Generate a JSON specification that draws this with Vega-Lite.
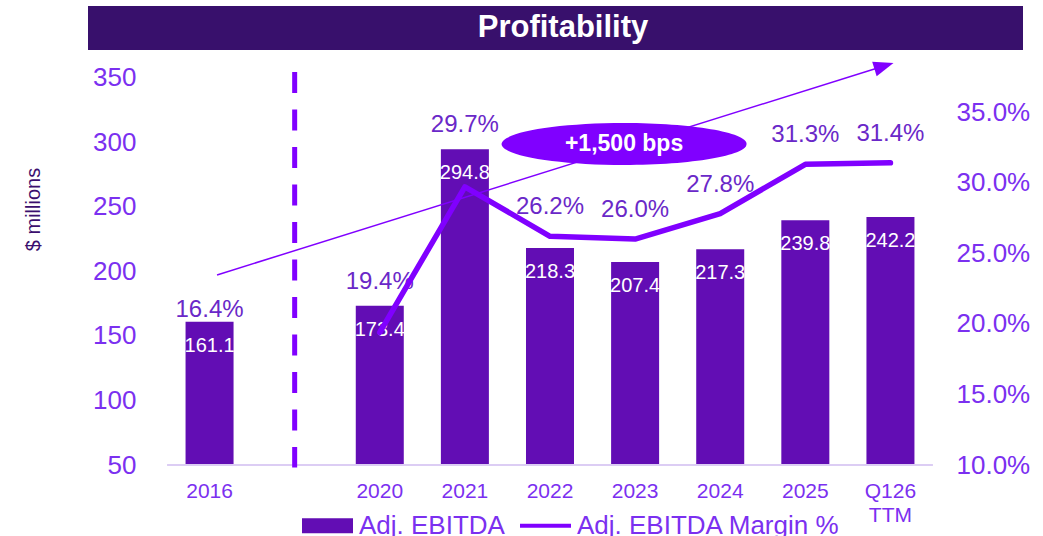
{
  "$schema": "https://vega.github.io/schema/vega-lite/v6.json",
  "width": 935,
  "height": 459,
  "autosize": {"type": "none"},
  "padding": {"left": 88, "top": 6, "right": 20, "bottom": 71},
  "background": "white",
  "config": {"view": {"stroke": null}, "font": "Liberation Sans"},
  "data": {
    "values": [
      {"year": "2016", "ebitda": 161.1, "margin": 0.164},
      {"year": "2020", "ebitda": 173.4, "margin": 0.194},
      {"year": "2021", "ebitda": 294.8, "margin": 0.297},
      {"year": "2022", "ebitda": 218.3, "margin": 0.262},
      {"year": "2023", "ebitda": 207.4, "margin": 0.260},
      {"year": "2024", "ebitda": 217.3, "margin": 0.278},
      {"year": "2025", "ebitda": 239.8, "margin": 0.313},
      {"year": "Q126 TTM", "ebitda": 242.2, "margin": 0.314}
    ]
  },
  "layer": [
    {
      "layer": [
        {
          "mark": {"type": "bar"},
          "encoding": {
            "x": {
              "field": "year", "type": "nominal", "sort": null,
              "scale": {
                "domain": ["2016", " ", "2020", "2021", "2022", "2023", "2024", "2025", "Q126 TTM"],
                "range": [79, 845],
                "paddingInner": 0.436, "paddingOuter": 0.218, "align": 0.5
              },
              "axis": {
                "title": null, "labelAngle": 0, "labelFontSize": 21, "labelColor": "#7b30f0",
                "ticks": false, "tickSize": 0, "domain": false, "grid": false, "labelPadding": 15,
                "labelBaseline": "top", "labelLineHeight": 24,
                "labelExpr": "datum.label == 'Q126 TTM' ? ['Q126', 'TTM'] : datum.label"
              }
            },
            "y": {
              "field": "ebitda", "type": "quantitative",
              "scale": {"domain": [50, 405.8], "nice": false, "zero": false},
              "axis": {
                "values": [50, 100, 150, 200, 250, 300, 350],
                "labelFontSize": 26, "labelColor": "#7b30f0", "ticks": false, "tickSize": 0,
                "domain": false, "grid": false, "labelPadding": -48, "labelAlign": "right",
                "labelBaseline": "middle",
                "title": "$ millions", "titleColor": "#3b0f6e", "titleFontSize": 20,
                "titleFontWeight": "normal", "titleAngle": -90, "titleX": -55, "titleY": 203,
                "titleAlign": "center", "titleBaseline": "middle"
              }
            },
            "y2": {"datum": 50},
            "color": {
              "datum": "Adj. EBITDA", "type": "nominal",
              "scale": {"domain": ["Adj. EBITDA", "Adj. EBITDA Margin %"], "range": ["#620db4", "#8000ff"]},
              "legend": {
                "orient": "none", "legendX": 214, "legendY": 494, "direction": "horizontal",
                "title": null, "labelFontSize": 26, "labelColor": "#7b30f0", "symbolSize": 2601,
                "labelOffset": 6, "columnPadding": 15, "padding": 0, "labelLimit": 500,
                "symbolType": "M-1,-0.29H1V0.29H-1Z",
                "encode": {
                  "symbols": {
                    "update": {
                      "shape": {"signal": "datum.value === 'Adj. EBITDA' ? 'M-1,-0.29H1V0.29H-1Z' : 'M-1,-0.075H1V0.075H-1Z'"},
                      "fill": {"scale": "color", "field": "value"},
                      "stroke": {"value": "transparent"},
                      "strokeWidth": {"value": 0},
                      "opacity": {"value": 1}
                    }
                  }
                }
              }
            }
          }
        },
        {
          "data": {"values": [{}]},
          "mark": {"type": "rect", "color": "#38106c"},
          "encoding": {
            "y": {"datum": 405.8, "type": "quantitative"},
            "y2": {"datum": 371.7}
          }
        },
        {
          "data": {"values": [{}]},
          "mark": {"type": "text", "text": "Profitability", "fontSize": 31, "fontWeight": "bold", "color": "white", "baseline": "middle", "align": "center"},
          "encoding": {
            "x": {"datum": "2022", "type": "nominal", "bandPosition": 0.77},
            "y": {"datum": 388.7, "type": "quantitative"}
          }
        },
        {
          "data": {"values": [{}]},
          "mark": {"type": "rule", "color": "#dccdf4", "strokeWidth": 2},
          "encoding": {
            "x": {"datum": "2016", "type": "nominal", "bandPosition": -0.385},
            "x2": {"datum": "Q126 TTM", "bandPosition": 1.385},
            "y": {"datum": 50, "type": "quantitative"}
          }
        },
        {
          "mark": {"type": "text", "color": "white", "fontSize": 20, "baseline": "middle", "dy": 24},
          "encoding": {
            "x": {"field": "year", "type": "nominal"},
            "y": {"field": "ebitda", "type": "quantitative"},
            "text": {"field": "ebitda", "format": ".1f"}
          }
        },
        {
          "data": {"values": [{}]},
          "mark": {"type": "rule", "color": "#8000ff", "strokeWidth": 5, "strokeDash": [21, 16.5]},
          "encoding": {
            "x": {"datum": " ", "type": "nominal"},
            "y": {"datum": 354.7, "type": "quantitative"},
            "y2": {"datum": 48}
          }
        },
        {
          "data": {"values": [{}]},
          "mark": {"type": "rule", "color": "#8000ff", "strokeWidth": 1.5},
          "encoding": {
            "x": {"datum": "2016", "type": "nominal", "bandPosition": 0.656},
            "x2": {"datum": "Q126 TTM", "bandPosition": 0.365},
            "y": {"datum": 197.3, "type": "quantitative"},
            "y2": {"datum": 359.3}
          }
        },
        {
          "data": {"values": [{}]},
          "mark": {"type": "point", "shape": "M1,0L-1,-0.75L-1,0.75Z", "filled": true, "color": "#8000ff", "size": 400, "angle": -17.4, "opacity": 1},
          "encoding": {
            "x": {"datum": "Q126 TTM", "type": "nominal", "bandPosition": 0.365},
            "y": {"datum": 359.3, "type": "quantitative"}
          }
        },
        {
          "data": {"values": [{}]},
          "mark": {"type": "point", "shape": "M-1,0A1,0.171,0,1,0,1,0A1,0.171,0,1,0,-1,0Z", "filled": true, "color": "#8000ff", "size": 60025, "opacity": 1},
          "encoding": {
            "x": {"datum": "2023", "type": "nominal", "bandPosition": 0.27},
            "y": {"datum": 298.8, "type": "quantitative"}
          }
        },
        {
          "data": {"values": [{}]},
          "mark": {"type": "text", "text": "+1,500 bps", "color": "white", "fontSize": 23, "fontWeight": "bold", "baseline": "middle", "align": "center"},
          "encoding": {
            "x": {"datum": "2023", "type": "nominal", "bandPosition": 0.27},
            "y": {"datum": 298.8, "type": "quantitative"}
          }
        },
        {
          "transform": [{"filter": "datum.year == '2016'"}],
          "mark": {"type": "text", "color": "#6a28c8", "fontSize": 24, "baseline": "middle", "dy": -12},
          "encoding": {
            "x": {"field": "year", "type": "nominal"},
            "y": {"field": "ebitda", "type": "quantitative"},
            "text": {"field": "margin", "format": ".1%"}
          }
        },
        {
          "transform": [{"filter": "datum.year == '2020' || datum.year == '2021'"}],
          "mark": {"type": "text", "color": "#6a28c8", "fontSize": 24, "baseline": "middle", "dy": -24},
          "encoding": {
            "x": {"field": "year", "type": "nominal"},
            "y": {"field": "ebitda", "type": "quantitative"},
            "text": {"field": "margin", "format": ".1%"}
          }
        }
      ]
    },
    {
      "layer": [
        {
          "transform": [{"filter": "datum.year != '2016'"}],
          "mark": {"type": "line", "strokeWidth": 5.5, "strokeCap": "round", "strokeJoin": "round"},
          "encoding": {
            "x": {"field": "year", "type": "nominal"},
            "y": {
              "field": "margin", "type": "quantitative",
              "scale": {"domain": [0.10, 0.4251], "nice": false, "zero": false},
              "axis": {
                "orient": "right", "values": [0.10, 0.15, 0.20, 0.25, 0.30, 0.35], "format": ".1%",
                "labelFontSize": 26, "labelColor": "#7b30f0", "ticks": false, "tickSize": 0,
                "domain": false, "grid": false, "labelPadding": -67, "labelAlign": "left",
                "labelBaseline": "middle", "title": null
              }
            },
            "color": {"datum": "Adj. EBITDA Margin %", "type": "nominal"}
          }
        },
        {
          "transform": [{"filter": "datum.year != '2016' && datum.year != '2020' && datum.year != '2021'"}],
          "mark": {"type": "text", "color": "#6a28c8", "fontSize": 24, "baseline": "middle", "dy": -29},
          "encoding": {
            "x": {"field": "year", "type": "nominal"},
            "y": {"field": "margin", "type": "quantitative"},
            "text": {"field": "margin", "format": ".1%"}
          }
        }
      ]
    }
  ],
  "resolve": {"scale": {"y": "independent"}, "axis": {"y": "independent"}}
}
